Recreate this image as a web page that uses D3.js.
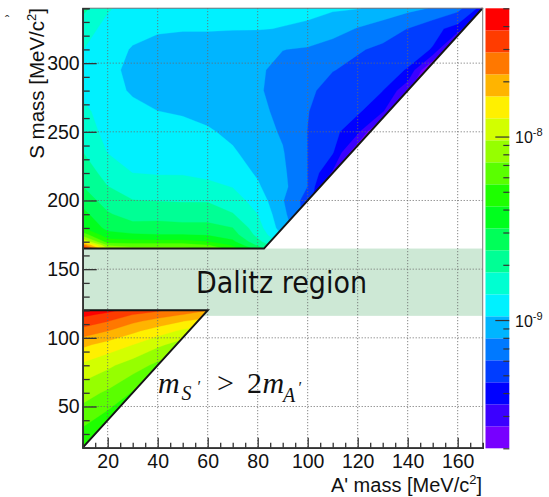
<!DOCTYPE html>
<html><head><meta charset="utf-8">
<script src="https://cdn.jsdelivr.net/npm/d3@7"></script>
<style>body{margin:0;background:#fff} svg{display:block}</style>
</head><body><svg id="c" width="549" height="497"></svg>
<script>
// ---------- data (values in units of 1e-9) ----------
const aMassUpper = [10,20,30,40,50,60,70,80,90,100,110,120,130,140,150,160,170];
const sMassUpper = [165,167.5,170,175,180,190,200,210,220,235,250,265,280,295,310,325,340];
const upperValues = [
 [43.7,9.57,7.92,7.92,7.70,6.91,4.82,2.77,1.59,1.05,0.80,0.80,0.80,0.80,0.80,0.80,0.80],
 [25.1,6.91,6.35,6.35,6.35,5.54,3.97,2.28,1.38,0.91,0.80,0.80,0.80,0.80,0.80,0.80,0.80],
 [12.6,4.82,4.56,4.56,4.56,4.19,3.36,1.98,1.21,0.80,0.70,0.70,0.70,0.70,0.70,0.70,0.70],
 [6.35,3.45,3.27,3.18,3.18,3.09,2.69,1.68,1.02,0.69,0.46,0.46,0.46,0.46,0.46,0.46,0.46],
 [4.19,2.92,2.69,2.69,2.62,2.62,2.41,1.55,0.91,0.60,0.35,0.35,0.35,0.35,0.35,0.35,0.35],
 [3.45,2.48,2.10,2.15,2.10,2.10,1.85,1.38,0.86,0.53,0.26,0.26,0.26,0.26,0.26,0.26,0.26],
 [2.84,2.10,1.83,1.80,1.78,1.78,1.55,1.24,0.81,0.53,0.23,0.23,0.23,0.23,0.23,0.23,0.23],
 [2.41,1.83,1.63,1.59,1.55,1.46,1.37,1.08,0.86,0.60,0.23,0.23,0.23,0.23,0.23,0.23,0.23],
 [2.15,1.63,1.38,1.35,1.35,1.31,1.17,1.02,0.84,0.60,0.33,0.20,0.20,0.20,0.20,0.20,0.20],
 [1.83,1.37,1.27,1.24,1.21,1.17,1.08,0.94,0.81,0.60,0.47,0.20,0.20,0.20,0.20,0.20,0.20],
 [1.59,1.27,1.21,1.17,1.14,1.08,0.99,0.89,0.77,0.60,0.50,0.37,0.15,0.15,0.15,0.15,0.15],
 [1.46,1.24,1.14,1.05,1.02,0.97,0.89,0.84,0.75,0.61,0.51,0.48,0.36,0.15,0.15,0.15,0.15],
 [1.31,1.17,1.01,0.94,0.91,0.89,0.86,0.82,0.72,0.64,0.54,0.51,0.46,0.28,0.15,0.15,0.15],
 [1.24,1.14,0.97,0.89,0.86,0.86,0.86,0.83,0.73,0.68,0.61,0.56,0.51,0.45,0.17,0.15,0.15],
 [1.39,1.21,1.02,0.94,0.91,0.91,0.91,0.86,0.80,0.77,0.69,0.62,0.57,0.52,0.45,0.15,0.15],
 [1.55,1.27,1.17,1.09,1.07,1.07,1.06,1.06,1.04,1.02,0.91,0.78,0.69,0.60,0.50,0.41,0.17],
 [1.98,1.42,1.24,1.21,1.21,1.17,1.14,1.12,1.11,1.09,1.08,1.06,0.97,0.86,0.78,0.66,0.41]
];
const aMassLower = [10,20,30,40,50,60];
const sMassLower = [20,40,60,80,95,105,112,117,120];
const lowerValues = [
 [4.19,3.75,3.45,3.18,3.18,3.18],
 [6.01,4.82,4.08,3.65,3.45,3.36],
 [8.14,6.91,5.38,4.43,3.97,3.65],
 [11.9,10.1,8.37,6.72,5.54,4.82],
 [17.6,14.9,12.6,10.1,8.37,6.91],
 [25.8,21.9,17.6,14.5,11.9,10.1],
 [34.1,28.9,23.1,19.6,16.6,14.5],
 [40.2,36.0,28.9,25.1,21.9,19.1],
 [43.7,40.2,35.0,30.5,25.8,21.9]
];
const valueUnit = 1e-9;
const xTicks = [20,40,60,80,100,120,140,160];
const yTicks = [50,100,150,200,250,300];
const zRange = [2e-10, 5e-8];
const nLevels = 20;
const zLabelExps = [-9, -8];
const dalitzRange = [116, 165];
const xDomain = [10,170], yDomain = [20,340];

// ---------- layout ----------
const svg = d3.select('#c');
const X0=82.7, X1=482.7, Y0=447.7, Y1=8.2;
const x = d3.scaleLinear(xDomain,[X0,X1]);
const y = d3.scaleLinear(yDomain,[Y0,Y1]);
const lz0 = Math.log10(zRange[0]);
const dlz = (Math.log10(zRange[1]) - lz0)/nLevels;
const levels = d3.range(nLevels).map(k => lz0 + k*dlz);
const palette = d3.range(nLevels).map(k => d3.hsl(268*(1-k/(nLevels-1)),1,0.5).formatHex());
const FONT = '"Liberation Sans", Arial, Helvetica, sans-serif';

svg.append('rect').attr('width',549).attr('height',497).attr('fill','#fff');

// Dalitz band
svg.append('rect').attr('x',X0).attr('width',X1-X0)
  .attr('y',y(dalitzRange[1])).attr('height',y(dalitzRange[0])-y(dalitzRange[1]))
  .attr('fill','#cde8d5');

// clip regions: m_S > 2 m_A
const upperPoly = [[xDomain[0],sMassUpper[0]],[sMassUpper[0]/2,sMassUpper[0]],[yDomain[1]/2,yDomain[1]],[xDomain[0],yDomain[1]]];
const lowerPoly = [[xDomain[0],sMassLower[0]],[sMassLower[sMassLower.length-1]/2,sMassLower[sMassLower.length-1]],[xDomain[0],sMassLower[sMassLower.length-1]]];
const line = d3.line().x(d=>x(d[0])).y(d=>y(d[1]));
const defs = svg.append('defs');
defs.append('clipPath').attr('id','clipU').append('path').attr('d', line(upperPoly)+'Z');
defs.append('clipPath').attr('id','clipL').append('path').attr('d', line(lowerPoly)+'Z');

function drawField(id, xs, ys, rows) {
  const flat = [];
  rows.forEach(r => r.forEach(v => flat.push(Math.log10(v*valueUnit))));
  const ix = d3.scaleLinear().domain(xs.map((_,i)=>i+0.5)).range(xs);
  const iy = d3.scaleLinear().domain(ys.map((_,i)=>i+0.5)).range(ys);
  const cs = d3.contours().size([xs.length, ys.length]).thresholds(levels)(flat);
  const proj = d3.geoTransform({point(px,py){ this.stream.point(x(ix(px)), y(iy(py))); }});
  const path = d3.geoPath(proj);
  svg.append('g').attr('clip-path','url(#'+id+')')
    .selectAll('path').data(cs).join('path')
    .attr('d', path).attr('fill', (d,i)=>palette[i]).attr('stroke', (d,i)=>palette[i]).attr('stroke-width',0.3);
}
drawField('clipU', aMassUpper, sMassUpper, upperValues);
drawField('clipL', aMassLower, sMassLower, lowerValues);

// grid
const grid = svg.append('g').attr('stroke','#6a6a6a').attr('stroke-width',1).attr('stroke-dasharray','1,2');
grid.selectAll('.gx').data(xTicks).join('line').attr('x1',d=>x(d)).attr('x2',d=>x(d)).attr('y1',Y1).attr('y2',Y0);
grid.selectAll('.gy').data(yTicks).join('line').attr('y1',d=>y(d)).attr('y2',d=>y(d)).attr('x1',X0).attr('x2',X1);

// region boundary lines
const bl = svg.append('g').attr('fill','none').attr('stroke','#161616').attr('stroke-width',2);
bl.append('path').attr('d', line([upperPoly[0],upperPoly[1],upperPoly[2]]));
bl.append('path').attr('d', line([lowerPoly[2],lowerPoly[1],lowerPoly[0]]));

// frame
svg.append('rect').attr('x',X0).attr('y',Y1).attr('width',X1-X0).attr('height',Y0-Y1)
  .attr('fill','none').attr('stroke','#7a7a7a').attr('stroke-width',1);

// axes
function styleAxis(g){ g.select('.domain').attr('stroke','#333').attr('stroke-width',1.6);
  g.selectAll('.tick line').attr('stroke','#333').attr('stroke-width',1.3);
  g.selectAll('text').attr('fill','#111').style('font-family',FONT).style('font-size','19.5px'); }
const xMinor = d3.range(15,170,5).filter(v=>v%20!==0);
const yMinor = d3.range(30,341,10).filter(v=>v%50!==0);
svg.append('g').attr('transform',`translate(0,${Y0})`)
  .call(d3.axisBottom(x).tickValues(xMinor).tickSize(-5).tickFormat('')).call(styleAxis);
svg.append('g').attr('transform',`translate(0,${Y0})`)
  .call(d3.axisBottom(x).tickValues(xTicks).tickSizeInner(-10).tickSizeOuter(0).tickPadding(6.5)).call(styleAxis);
svg.append('g').attr('transform',`translate(${X0},0)`)
  .call(d3.axisLeft(y).tickValues(yMinor).tickSize(-7).tickFormat('')).call(styleAxis);
svg.append('g').attr('transform',`translate(${X0},0)`)
  .call(d3.axisLeft(y).tickValues(yTicks).tickSizeInner(-14).tickSizeOuter(0).tickPadding(3)).call(styleAxis);

// axis titles
const xt = svg.append('text').attr('x',482).attr('y',491.5).attr('text-anchor','end')
  .style('font-family',FONT).style('font-size','20px').attr('fill','#111');
xt.append('tspan').text("A' mass [MeV/c");
xt.append('tspan').attr('dy',-8).style('font-size','13px').text('2');
xt.append('tspan').attr('dy',8).text(']');
const yt = svg.append('text').attr('transform','translate(43.5,8) rotate(-90)').attr('text-anchor','end')
  .style('font-family',FONT).style('font-size','20.5px').attr('fill','#111');
yt.append('tspan').text('S mass [MeV/c');
yt.append('tspan').attr('dy',-8).style('font-size','13px').text('2');
yt.append('tspan').attr('dy',8).text(']');
svg.append('text').attr('x',5).attr('y',25).style('font-family',FONT).style('font-size','13px').attr('fill','#333').text('ˆ');

// annotations
svg.append('text').attr('x',196).attr('y',293.3).attr('textLength',171).attr('lengthAdjust','spacingAndGlyphs')
  .style('font-family','"DejaVu Sans", "Liberation Sans", sans-serif').style('font-size','31px').attr('fill','#111').text('Dalitz region');
const m = svg.append('text').style('font-family','"Liberation Serif", "Times New Roman", serif').style('font-size','30px').attr('fill','#111');
m.append('tspan').attr('x',158).attr('y',393.3).style('font-style','italic').text('m');
m.append('tspan').attr('x',181.5).attr('y',400).style('font-size','20px').style('font-style','italic').text('S');
m.append('tspan').attr('x',197.5).attr('y',392).style('font-size','16px').text('′');
m.append('tspan').attr('x',217).attr('y',393.3).text('>');
m.append('tspan').attr('x',247).attr('y',393.3).text('2');
m.append('tspan').attr('x',262.5).attr('y',393.3).style('font-style','italic').text('m');
m.append('tspan').attr('x',283).attr('y',401.5).style('font-size','20px').style('font-style','italic').text('A');
m.append('tspan').attr('x',298.5).attr('y',393).style('font-size','16px').text('′');

// colour bar
const CB0 = 485.5, CB1 = 509.3;
const z = d3.scaleLog(zRange,[448.3, 8.3]);
const edges = d3.range(nLevels+1).map(k => Math.pow(10, lz0 + k*dlz));
svg.append('g').selectAll('rect').data(d3.range(nLevels)).join('rect')
  .attr('x',CB0).attr('width',CB1-CB0)
  .attr('y',k=>z(edges[k+1])).attr('height',k=>z(edges[k])-z(edges[k+1]))
  .attr('fill',k=>palette[k]);
const zMinor = [];
for (let e=-10;e<=-8;e++) for (let k=2;k<=9;k++){ const v=k*Math.pow(10,e); if(v>=zRange[0]&&v<=zRange[1]) zMinor.push(v); }
const zMajor = zLabelExps.map(e=>Math.pow(10,e));
function styleZ(g){ g.select('.domain').remove(); g.selectAll('.tick line').attr('stroke','#333').attr('stroke-width',1.2); g.selectAll('text').remove(); }
svg.append('g').attr('transform',`translate(${CB1},0)`).call(d3.axisRight(z).tickValues(zMinor).tickSize(-6)).call(styleZ);
svg.append('g').attr('transform',`translate(${CB1},0)`).call(d3.axisRight(z).tickValues(zMajor).tickSize(-14)).call(styleZ);
zLabelExps.forEach(e => {
  const t = svg.append('text').attr('x',515).attr('y',z(Math.pow(10,e))+6.5)
    .style('font-family',FONT).style('font-size','16px').attr('fill','#111');
  t.append('tspan').text('10');
  t.append('tspan').attr('dy',-7).style('font-size','11px').text('-' + Math.abs(e));
});
</script></body></html>
